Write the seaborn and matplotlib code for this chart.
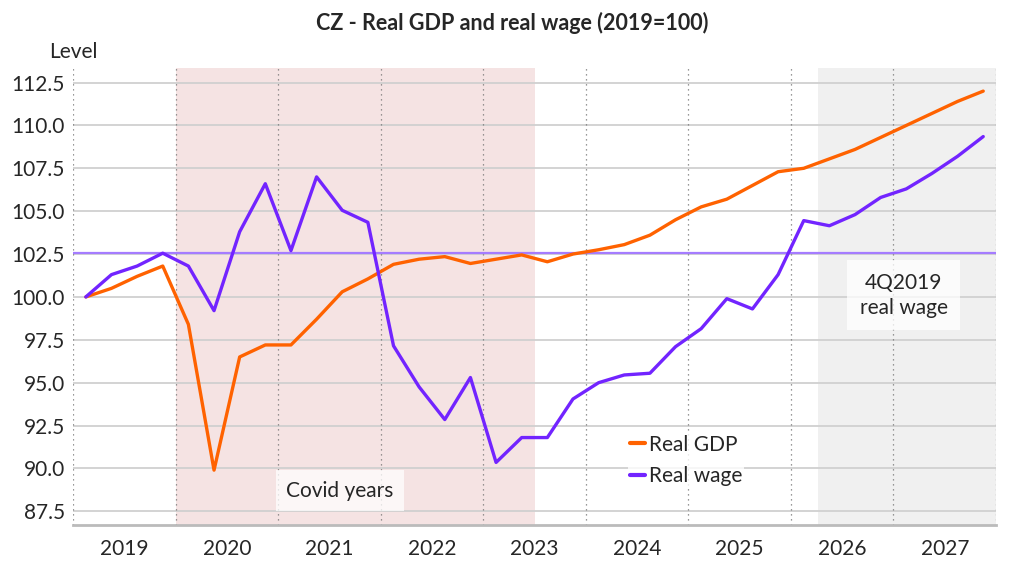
import numpy as np
import pandas as pd
import seaborn as sns
import matplotlib.pyplot as plt
from matplotlib.lines import Line2D

# ---------------------------------------------------------------------------------------
# data: quarterly index, 2019 = 100 (2019Q1 .. 2027Q4)
# ---------------------------------------------------------------------------------------
years = ['2019', '2020', '2021', '2022', '2023', '2024', '2025', '2026', '2027']

real_gdp = [100.0, 100.5, 101.2, 101.8,
            98.4, 89.9, 96.5, 97.2,
            97.2, 98.7, 100.3, 101.05,
            101.9, 102.2, 102.35, 101.95,
            102.2, 102.45, 102.05, 102.5,
            102.75, 103.05, 103.6, 104.5,
            105.25, 105.7, 106.5, 107.3,
            107.5, 108.05, 108.6, 109.3,
            110.0, 110.7, 111.4, 112.0]

real_wage = [100.0, 101.3, 101.8, 102.55,
             101.8, 99.2, 103.8, 106.6,
             102.7, 107.0, 105.05, 104.35,
             97.15, 94.75, 92.85, 95.3,
             90.35, 91.8, 91.8, 94.05,
             95.0, 95.45, 95.55, 97.1,
             98.15, 99.9, 99.3, 101.3,
             104.45, 104.15, 104.8, 105.8,
             106.3, 107.2, 108.2, 109.35]

wage_4q2019 = 102.55

covid_span = (3.5, 17.5)      # 2020Q1 .. 2023Q2
forecast_span = (28.55, 35.5)  # forecast shading

quarter = np.arange(len(real_gdp))
df = pd.DataFrame({
    'quarter': np.concatenate([quarter, quarter]),
    'value': real_gdp + real_wage,
    'series': ['Real GDP'] * len(real_gdp) + ['Real wage'] * len(real_wage),
})

sns.set_style('white')
plt.rcParams['font.family'] = ['Lato', 'DejaVu Sans']

orange = '#FF6200'
purple = '#7224FF'

fig = plt.figure(figsize=(10.24, 5.76), dpi=100)
ax = fig.add_axes([0.0713, 0.0885, 0.9014, 0.7935])

ax.axvspan(*covid_span, color='#F5E3E3', lw=0, zorder=0)
ax.axvspan(*forecast_span, color='#F0F0F0', lw=0, zorder=0)

ax.set_yticks(np.arange(87.5, 113, 2.5))
ax.yaxis.grid(True, color='#D0D0D0', lw=1.3, zorder=1)
ax.set_axisbelow(True)

for b in np.arange(-0.5, 36, 4):
    ax.axvline(b, color='#777777', ls=(0, (1, 3)), lw=0.9, zorder=1)

ax.axhline(wage_4q2019, color='#A57CFF', lw=1.6, zorder=2)

sns.lineplot(data=df, x='quarter', y='value', hue='series',
             palette={'Real GDP': orange, 'Real wage': purple},
             lw=2.4, ax=ax, legend=False, zorder=3)

ax.set_xlim(-0.5, 35.5)
ax.set_ylim(86.7, 113.35)

ax.set_xticks(np.arange(-0.5, 36, 4))
ax.set_xticklabels([])
ax.set_xticks(np.arange(1.5, 36, 4), minor=True)
ax.set_xticklabels(years, minor=True)
ax.tick_params(axis='x', which='major', length=7, color='#BBBBBB', width=1)
ax.tick_params(axis='x', which='minor', length=0, pad=10, labelsize=15)
ax.tick_params(axis='y', length=0, labelsize=15, pad=6)
ax.set_yticklabels([f'{v:.1f}' for v in np.arange(87.5, 113, 2.5)])
ax.set_xlabel('')
ax.set_ylabel('')

for s in ['left', 'right', 'top']:
    ax.spines[s].set_visible(False)
ax.spines['bottom'].set_color('#BBBBBB')
ax.spines['bottom'].set_linewidth(2)

ax.text(0.0, 1.035, 'Level', transform=ax.transAxes, ha='center', va='center', fontsize=15)
fig.text(0.5, 0.96, 'CZ - Real GDP and real wage (2019=100)', ha='center', va='center',
         fontsize=15.5, fontweight='bold')

ax.text(9.9, 88.7, 'Covid years', ha='center', va='center', fontsize=15,
        bbox=dict(boxstyle='square,pad=0.5', fc='white', ec='none', alpha=0.75), zorder=4)
ax.text(31.9, 100.1, '4Q2019\nreal wage', ha='center', va='center', fontsize=15,
        linespacing=1.3,
        bbox=dict(boxstyle='square,pad=0.6', fc='white', ec='none', alpha=0.75), zorder=4)

handles = [Line2D([], [], color=orange, lw=3), Line2D([], [], color=purple, lw=3)]
leg = ax.legend(handles, ['Real GDP', 'Real wage'], loc='upper left',
                bbox_to_anchor=(0.59, 0.225), fontsize=15, frameon=True,
                handlelength=0.7, handletextpad=0.2, labelspacing=0.55,
                borderpad=0.1, fancybox=False)
leg.get_frame().set_edgecolor('none')
leg.get_frame().set_facecolor('white')
leg.set_zorder(5)

fig.savefig('out.png', dpi=100)
